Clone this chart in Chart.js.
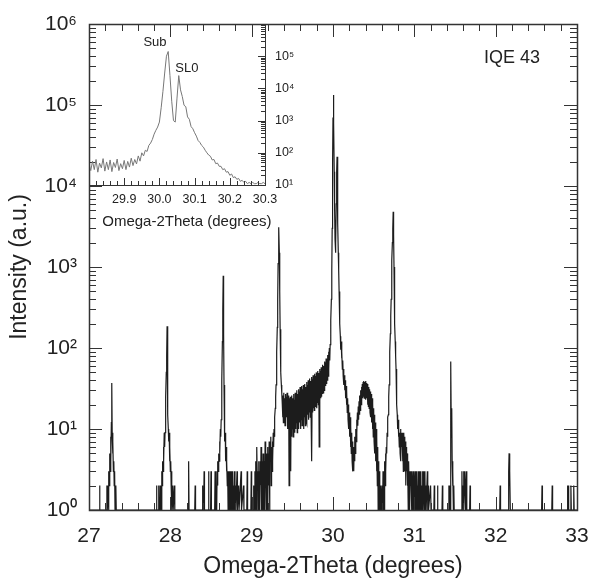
<!DOCTYPE html>
<html>
<head>
<meta charset="utf-8">
<script src="https://cdn.jsdelivr.net/npm/chart.js@4/dist/chart.umd.min.js"></script>
<style>
  html, body { margin: 0; padding: 0; background: #fff; overflow: hidden; }
  #wrap { position: relative; width: 590px; height: 580px; }
  #wrap canvas { position: absolute; left: 0; top: 0; }
</style>
</head>
<body>
<div id="wrap">
  <canvas id="main" width="590" height="580"></canvas>
  <canvas id="inset" width="590" height="580"></canvas>
</div>
<script>
// ---- data: [omega-2theta (deg), counts]; 1 = no counts (baseline)
const region27 = [[27.00,1],[27.125,1],[27.13,2],[27.135,1],[27.215,1],[27.22,2],[27.225,1],[27.235,2],[27.24,1],[27.245,3],[27.25,2],[27.255,5],[27.26,3],[27.265,8],[27.27,4],[27.275,12],[27.28,37],[27.285,9],[27.29,5],[27.295,7],[27.30,3],[27.305,4],[27.31,2],[27.315,3],[27.32,1],[27.33,2],[27.335,1]];

const region28 = [[27.825,1],[27.83,2],[27.835,1],[27.85,1],[27.855,2],[27.86,1],[27.87,1],[27.875,2],[27.88,1],[27.885,2],[27.89,1],[27.895,3],[27.90,2],[27.905,4],[27.91,3],[27.915,6],[27.92,4],[27.925,9],[27.93,6],[27.935,9],[27.94,14],[27.945,25],[27.95,50],[27.955,80],[27.96,186],[27.965,45],[27.97,15],[27.975,10],[27.98,7],[27.985,9],[27.99,4],[27.995,6],[28.00,3],[28.005,4],[28.01,2],[28.015,3],[28.02,1],[28.03,2],[28.035,1],[28.05,2],[28.055,1],[28.22,1],[28.225,4],[28.23,1]];

const region286 = [[28.30,1],[28.305,2],[28.31,1],[28.39,1],[28.395,2],[28.40,1],[28.41,1],[28.415,3],[28.42,1],[28.465,1],[28.47,3],[28.475,1],[28.495,1],[28.50,3],[28.505,1],[28.545,1],[28.55,3],[28.555,2],[28.56,1],[28.565,2],[28.57,1],[28.575,3],[28.58,2],[28.585,4],[28.59,3],[28.595,5],[28.60,4],[28.605,7],[28.61,5],[28.615,10],[28.62,8],[28.625,13],[28.63,20],[28.635,40],[28.64,120],[28.645,300],[28.65,780],[28.655,150],[28.66,35],[28.665,12],[28.67,7],[28.675,9],[28.68,4],[28.685,6],[28.69,3],[28.695,4],[28.70,2],[28.705,3],[28.71,1],[28.715,3],[28.72,2],[28.725,3],[28.73,1],[28.735,3],[28.74,2],[28.745,1],[28.75,3],[28.755,1],[28.76,2],[28.765,3],[28.77,1],[28.775,2],[28.78,1],[28.79,3],[28.795,1],[28.80,2],[28.805,1],[28.82,3],[28.825,1],[28.84,2],[28.845,1],[28.87,3],[28.875,1],[28.90,2],[28.905,1],[28.94,1],[28.945,3],[28.95,1],[28.99,1],[28.995,3]];

const region293 = [[29.00,1],[29.02,1],[29.025,2],[29.03,1],[29.04,3],[29.045,1],[29.05,4],[29.055,2],[29.06,1],[29.065,6],[29.07,2],[29.075,3],[29.08,1],[29.085,4],[29.09,2],[29.095,3],[29.10,1],[29.105,4],[29.11,2],[29.115,6],[29.12,1],[29.125,3],[29.13,4],[29.135,1],[29.14,5],[29.145,1],[29.15,3],[29.155,4],[29.16,1],[29.165,7],[29.17,2],[29.175,4],[29.18,1],[29.185,5],[29.19,2],[29.195,6],[29.20,1],[29.205,5],[29.21,2],[29.215,7],[29.22,1],[29.225,5],[29.23,4],[29.235,8],[29.24,2],[29.245,6],[29.25,3],[29.255,7],[29.26,4],[29.265,9],[29.27,6],[29.275,10],[29.28,8],[29.285,14],[29.29,18],[29.295,25],[29.30,35],[29.305,50],[29.31,90],[29.315,180],[29.32,400],[29.325,1100],[29.33,2000],[29.335,3100],[29.34,1500],[29.345,500],[29.35,170],[29.355,90],[29.36,50],[29.365,35],[29.37,28]];

const band = [[29.375,22],[29.38,14],[29.385,26],[29.39,12],[29.395,28],[29.40,15],[29.405,24],[29.41,11],[29.415,27],[29.42,13],[29.425,25],[29.43,14],[29.435,28],[29.44,10],[29.445,22],[29.45,12],[29.455,26],[29.46,2],[29.465,24],[29.47,9],[29.475,25],[29.48,3],[29.485,22],[29.49,8],[29.495,26],[29.50,10],[29.505,24],[29.51,8],[29.515,27],[29.52,11],[29.525,23],[29.53,9],[29.535,28],[29.54,10],[29.545,25],[29.55,12],[29.555,30],[29.56,9],[29.565,27],[29.57,11],[29.575,31],[29.58,10],[29.585,29],[29.59,12],[29.595,33],[29.60,10],[29.605,30],[29.61,13],[29.615,34],[29.62,11],[29.625,31],[29.63,12],[29.635,35],[29.64,10],[29.645,32],[29.65,14],[29.655,36],[29.66,11],[29.665,33],[29.67,13],[29.675,38],[29.68,12],[29.685,35],[29.69,15],[29.695,40],[29.70,13],[29.705,37],[29.71,16],[29.715,42],[29.72,14],[29.725,39],[29.73,17],[29.735,44],[29.74,4],[29.745,41],[29.75,16],[29.755,46],[29.76,18],[29.765,43],[29.77,17],[29.775,48],[29.78,19],[29.785,45],[29.79,20],[29.795,50],[29.80,18],[29.805,47],[29.81,21],[29.815,52],[29.82,20],[29.825,49],[29.83,6],[29.835,55],[29.84,22],[29.845,52],[29.85,24],[29.855,58],[29.86,25],[29.865,56],[29.87,27],[29.875,62],[29.88,28],[29.885,60],[29.89,30],[29.895,68],[29.90,32],[29.905,66],[29.91,34],[29.915,74],[29.92,36],[29.925,72],[29.93,40],[29.935,82],[29.94,45],[29.945,90],[29.95,55],[29.955,100],[29.96,70]];

const peak30 = [[29.965,110],[29.97,150],[29.975,220],[29.98,400],[29.985,900],[29.99,3000],[29.995,20000],[30.00,70000],[30.005,133000],[30.01,60000],[30.015,15000],[30.02,5000],[30.025,2200],[30.03,1500],[30.035,2000],[30.04,6000],[30.045,15000],[30.05,23000],[30.055,9000],[30.06,3500],[30.065,1500],[30.07,900],[30.075,500],[30.08,320],[30.085,200],[30.09,140],[30.095,95],[30.10,120],[30.105,75],[30.11,90],[30.115,55],[30.12,70],[30.125,45],[30.13,55],[30.135,35],[30.14,46],[30.145,30],[30.15,40],[30.155,24],[30.16,34],[30.165,20],[30.17,30],[30.175,16],[30.18,24],[30.185,13],[30.19,20],[30.195,10],[30.20,16],[30.205,8],[30.21,14],[30.215,6],[30.22,11],[30.225,5],[30.23,9],[30.235,4],[30.24,7],[30.245,3],[30.25,6],[30.255,3],[30.26,6],[30.265,4],[30.27,8],[30.275,5],[30.28,10],[30.285,7],[30.29,13],[30.295,9],[30.30,16],[30.305,11],[30.31,19],[30.315,13],[30.32,22],[30.325,15],[30.33,26],[30.335,17],[30.34,30],[30.345,20],[30.35,33],[30.355,22],[30.36,36],[30.365,24],[30.37,38],[30.375,25],[30.38,39],[30.385,24],[30.39,38],[30.395,26],[30.40,39],[30.405,23],[30.41,37],[30.415,24],[30.42,36],[30.425,20],[30.43,34],[30.435,19],[30.44,33],[30.445,18],[30.45,31],[30.455,16],[30.46,29],[30.465,14],[30.47,27],[30.475,12],[30.48,24],[30.485,10],[30.49,21],[30.495,8],[30.50,18],[30.505,7],[30.51,15],[30.515,5],[30.52,12],[30.525,4],[30.53,10],[30.535,3],[30.54,8],[30.545,2],[30.55,6],[30.555,1],[30.56,4],[30.565,1],[30.57,3],[30.575,1],[30.58,2],[30.585,1],[30.59,2],[30.595,1],[30.60,1],[30.605,2],[30.61,1],[30.615,3]];

const peak3075 = [[30.62,1],[30.625,3],[30.63,1],[30.635,4],[30.64,2],[30.645,5],[30.65,3],[30.655,6],[30.66,5],[30.665,9],[30.67,8],[30.675,14],[30.68,15],[30.685,25],[30.69,35],[30.695,60],[30.70,90],[30.705,150],[30.71,250],[30.715,400],[30.72,700],[30.725,1200],[30.73,2000],[30.735,3000],[30.74,4800],[30.745,2500],[30.75,1000],[30.755,400],[30.76,200],[30.765,120],[30.77,80],[30.775,55],[30.78,35],[30.785,20],[30.79,15],[30.795,10],[30.80,13],[30.805,8],[30.81,10],[30.815,6],[30.82,9],[30.825,5],[30.83,10],[30.835,4],[30.84,9],[30.845,6],[30.85,9],[30.855,4],[30.86,8],[30.865,3],[30.87,9],[30.875,5],[30.88,8],[30.885,3],[30.89,7],[30.895,2],[30.90,6],[30.905,3],[30.91,5],[30.915,2],[30.92,4],[30.925,1],[30.93,4],[30.935,2],[30.94,3],[30.945,1],[30.95,3],[30.955,2],[30.96,3],[30.965,1],[30.97,3],[30.975,1],[30.98,2],[30.985,3],[30.99,1],[30.995,3],[31.00,1],[31.005,2],[31.01,3],[31.015,1],[31.02,2],[31.025,3],[31.03,1],[31.035,2],[31.04,1],[31.05,3],[31.055,1],[31.06,2],[31.065,3],[31.07,1],[31.08,3],[31.085,1],[31.09,2],[31.095,1],[31.10,3],[31.105,1],[31.11,2],[31.115,3],[31.12,1],[31.13,3],[31.135,1],[31.14,2],[31.145,1],[31.16,3],[31.165,1],[31.17,2],[31.175,1],[31.20,2],[31.205,1],[31.24,1],[31.245,2],[31.25,1]];

const tail = [[31.28,1],[31.285,2],[31.29,1],[31.34,1],[31.345,2],[31.35,1],[31.42,1],[31.425,2],[31.43,1],[31.435,2],[31.44,1],[31.445,3],[31.45,68],[31.455,8],[31.46,18],[31.465,4],[31.47,2],[31.475,3],[31.48,1],[31.485,2],[31.49,1],[31.58,1],[31.585,3],[31.59,1],[31.60,2],[31.605,3],[31.61,1],[31.62,3],[31.625,2],[31.63,1],[31.64,3],[31.645,1],[31.68,1],[31.685,2],[31.69,1],[32.05,1],[32.055,2],[32.06,1],[32.155,1],[32.16,3],[32.165,5],[32.17,2],[32.175,3],[32.18,1],[32.565,1],[32.57,2],[32.575,1],[32.69,1],[32.695,2],[32.70,1],[32.88,1],[32.885,2],[32.89,1],[32.895,2],[32.90,1],[32.92,1],[32.925,2],[32.93,1],[32.955,1],[32.96,2],[32.965,1],[33.00,1]];

// inset: zoom around the substrate / SL0 peaks
const insetTrace = [[29.80,45],[29.805,28],[29.81,55],[29.815,30],[29.82,62],[29.825,25],[29.83,48],[29.835,34],[29.84,66],[29.845,27],[29.85,52],[29.855,30],[29.86,60],[29.865,26],[29.87,50],[29.875,35],[29.88,64],[29.885,28],[29.89,46],[29.895,32],[29.90,58],[29.905,30],[29.91,54],[29.915,36],[29.92,68],[29.925,40],[29.93,62],[29.935,45],[29.94,80],[29.945,55],[29.95,100],[29.955,80],[29.96,120],[29.965,110],[29.97,170],[29.975,200],[29.98,260],[29.985,380],[29.99,500],[29.995,630],[30.00,900],[30.005,2500],[30.01,8000],[30.015,30000],[30.02,100000],[30.025,140000],[30.03,25000],[30.035,4000],[30.04,1000],[30.045,900],[30.05,5000],[30.055,25000],[30.06,9000],[30.065,5600],[30.07,3000],[30.075,2700],[30.08,1300],[30.085,1100],[30.09,650],[30.095,560],[30.10,420],[30.105,330],[30.11,240],[30.115,210],[30.12,170],[30.125,150],[30.13,120],[30.135,100],[30.14,85],[30.145,78],[30.15,60],[30.155,62],[30.16,46],[30.165,48],[30.17,38],[30.175,38],[30.18,30],[30.185,32],[30.19,25],[30.195,26],[30.20,20],[30.205,22],[30.21,17],[30.215,18],[30.22,15],[30.225,16],[30.23,13],[30.235,14],[30.24,12],[30.245,13],[30.25,11],[30.255,12],[30.26,11],[30.265,12],[30.27,11],[30.275,11],[30.28,12],[30.285,11],[30.29,11],[30.295,12],[30.30,11]];

// tick labels
const mainXTicks = [27, 28, 29, 30, 31, 32, 33];
const mainYTicks = [1, 10, 100, 1000, 1e4, 1e5, 1e6];
const insetXTicks = [29.9, 30.0, 30.1, 30.2, 30.3];
const insetYTicks = [10, 100, 1000, 1e4, 1e5];

const FONT = "'Liberation Sans', Arial, sans-serif";
const INK = '#222';
const SUP = ['⁰','¹','²','³','⁴','⁵','⁶'];
const powLabel = v => '10' + SUP[Math.round(Math.log10(v))];

const toPoints = arr => arr.map(p => ({x: p[0], y: p[1]}));
const mainPoints = toPoints([].concat(region27, region28, region286, region293, band, peak30, peak3075, tail))
  .sort((a, b) => a.x - b.x);

// tick mark positions (inward, like the original)
function linTicks(min, max, step, every) {
  const out = [];
  const n = Math.round((max - min) / step);
  for (let i = 0; i <= n; i++) out.push([+(min + i * step).toFixed(4), i % every === 0]);
  return out;
}
function logTicks(e0, e1) {
  const out = [];
  for (let e = e0; e < e1; e++)
    for (let m = 1; m < 10; m++) out.push([m * Math.pow(10, e), m === 1]);
  out.push([Math.pow(10, e1), true]);
  return out;
}

// fixed box sizes, no label overhang padding
const fixW = w => s => { s.width = w; s.paddingTop = 0; s.paddingBottom = 0; };
const fixH = h => s => { s.height = h; s.paddingLeft = 0; s.paddingRight = 0; };

const boxTicks = {
  id: 'boxTicks',
  afterDatasetsDraw(chart, args, o) {
    const {ctx, chartArea: a} = chart;
    const xs = chart.scales.x, ys = chart.scales.y;
    ctx.save();
    ctx.strokeStyle = o.color;
    ctx.lineWidth = o.frame;
    ctx.strokeRect(a.left + 0.5, a.top + 0.5, a.right - a.left, a.bottom - a.top);
    ctx.lineWidth = 1;
    ctx.beginPath();
    o.xTicks.forEach(([v, major]) => {
      const px = Math.round(xs.getPixelForValue(v)) + 0.5;
      const len = major ? o.major : o.minor;
      if (o.sides.includes('b')) { ctx.moveTo(px, a.bottom); ctx.lineTo(px, a.bottom - len); }
      if (o.sides.includes('t')) { ctx.moveTo(px, a.top); ctx.lineTo(px, a.top + len); }
    });
    o.yTicks.forEach(([v, major]) => {
      const py = Math.round(ys.getPixelForValue(v)) + 0.5;
      const len = major ? o.major : o.minor;
      if (o.sides.includes('l')) { ctx.moveTo(a.left, py); ctx.lineTo(a.left + len, py); }
      if (o.sides.includes('r')) { ctx.moveTo(a.right, py); ctx.lineTo(a.right - len, py); }
    });
    ctx.stroke();
    ctx.fillStyle = INK;
    ctx.textAlign = 'center';
    ctx.textBaseline = 'middle';
    (o.texts || []).forEach(t => {
      ctx.font = t.font;
      const px = xs.getPixelForValue(t.x);
      const py = t.dy !== undefined ? a.bottom + t.dy : ys.getPixelForValue(t.y);
      ctx.fillText(t.text, px, py);
    });
    ctx.restore();
  }
};

new Chart(document.getElementById('main'), {
  type: 'line',
  data: {
    datasets: [{
      data: mainPoints,
      borderColor: '#1c1c1c',
      borderWidth: 1.2,
      pointRadius: 0,
      tension: 0
    }]
  },
  options: {
    responsive: false,
    animation: false,
    events: [],
    layout: {padding: {left: 6, top: 24, right: 13, bottom: 0}},
    plugins: {
      legend: {display: false},
      tooltip: {enabled: false},
      boxTicks: {
        color: '#333', frame: 1.5, major: 13, minor: 7, sides: 'btlr',
        xTicks: linTicks(27, 33, 0.2, 5),
        yTicks: logTicks(0, 6),
        texts: [{text: 'IQE 43', x: 32.2, y: 3.8e5, font: '18px ' + FONT}]
      }
    },
    scales: {
      x: {
        type: 'linear', min: 27, max: 33,
        afterBuildTicks: s => { s.ticks = mainXTicks.map(v => ({value: v})); },
        afterFit: fixH(70),
        grid: {display: false, drawTicks: false},
        border: {display: false},
        ticks: {padding: 14, color: INK, font: {family: FONT, size: 21}, autoSkip: false, maxRotation: 0, callback: v => String(v)},
        title: {display: true, text: 'Omega-2Theta (degrees)', color: INK, font: {family: FONT, size: 23}, padding: {top: 0, bottom: 0}}
      },
      y: {
        type: 'logarithmic', min: 1, max: 1e6,
        afterBuildTicks: s => { s.ticks = mainYTicks.map(v => ({value: v})); },
        afterFit: fixW(83),
        grid: {display: false, drawTicks: false},
        border: {display: false},
        ticks: {padding: 12, color: INK, font: {family: FONT, size: 21}, autoSkip: false, callback: v => powLabel(v)},
        title: {display: true, text: 'Intensity (a.u.)', color: INK, font: {family: FONT, size: 23}, padding: {top: 0, bottom: 0}}
      }
    }
  },
  plugins: [boxTicks]
});

new Chart(document.getElementById('inset'), {
  type: 'line',
  data: {
    datasets: [{
      data: toPoints(insetTrace),
      borderColor: '#777',
      borderWidth: 1,
      pointRadius: 0,
      tension: 0
    }]
  },
  options: {
    responsive: false,
    animation: false,
    events: [],
    layout: {padding: {left: 89, top: 24, right: 285, bottom: 349}},
    plugins: {
      legend: {display: false},
      tooltip: {enabled: false},
      boxTicks: {
        color: '#333', frame: 1, major: 7, minor: 4, sides: 'br',
        xTicks: linTicks(29.8, 30.3, 0.02, 5),
        yTicks: logTicks(1, 6),
        texts: [
          {text: 'Sub', x: 29.9875, y: 2.6e5, font: '13px ' + FONT},
          {text: 'SL0', x: 30.078, y: 4.3e4, font: '13px ' + FONT},
          {text: 'Omega-2Theta (degrees)', x: 30.078, dy: 37, font: '15px ' + FONT}
        ]
      }
    },
    scales: {
      x: {
        type: 'linear', min: 29.8, max: 30.3,
        afterBuildTicks: s => { s.ticks = insetXTicks.map(v => ({value: v})); },
        afterFit: fixH(46),
        grid: {display: false, drawTicks: false},
        border: {display: false},
        ticks: {padding: 7, color: INK, font: {family: FONT, size: 12.5}, autoSkip: false, maxRotation: 0, callback: v => v.toFixed(1)}
      },
      y: {
        type: 'logarithmic', position: 'right', min: 10, max: 1e6,
        afterBuildTicks: s => { s.ticks = insetYTicks.map(v => ({value: v})); },
        afterFit: fixW(40),
        grid: {display: false, drawTicks: false},
        border: {display: false},
        ticks: {padding: 10, color: INK, font: {family: FONT, size: 12.5}, autoSkip: false, callback: v => powLabel(v)}
      }
    }
  },
  plugins: [boxTicks]
});
</script>
</body>
</html>
